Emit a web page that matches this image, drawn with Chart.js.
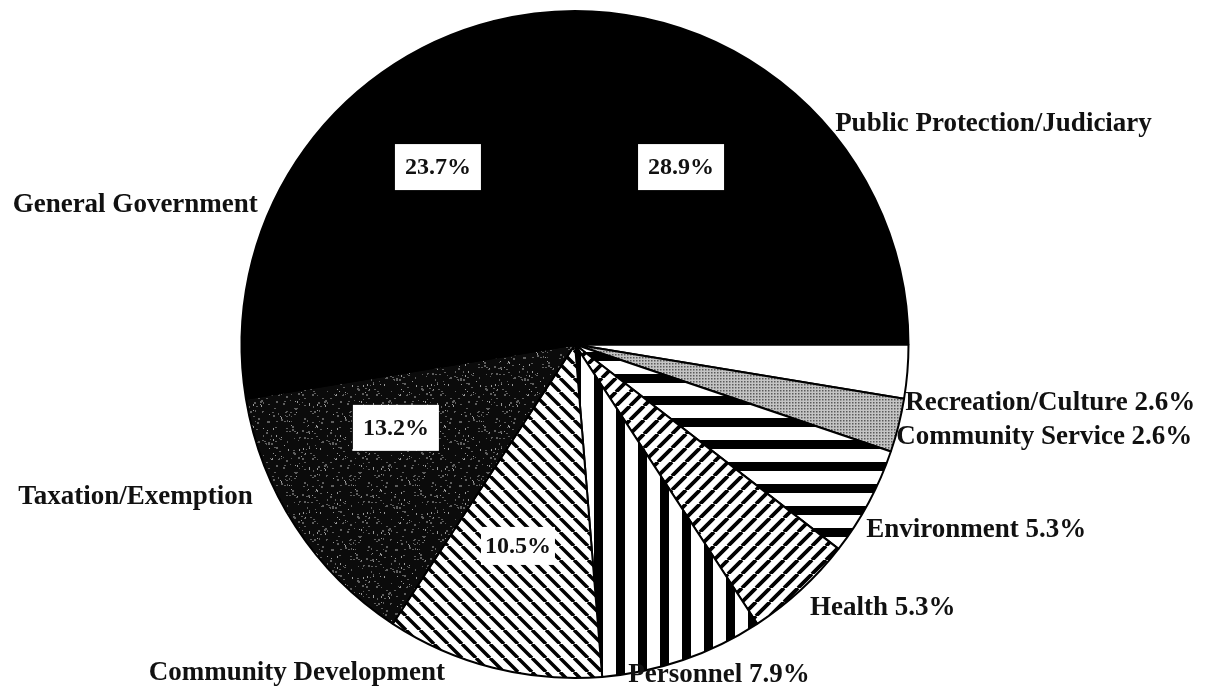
<!DOCTYPE html>
<html>
<head>
<meta charset="utf-8">
<script src="https://cdn.jsdelivr.net/npm/chart.js@4/dist/chart.umd.min.js"></script>
<style>
    html, body { margin: 0; padding: 0; background: #fff; }
    #wrap { width: 1206px; height: 687px; position: relative; }
</style>
</head>
<body>
<div id="wrap"><canvas id="pieCanvas"></canvas></div>
<script>
// slices in clockwise order, starting at 3 o'clock
const categories = ['Recreation/Culture', 'Community Service', 'Environment', 'Health', 'Personnel',
    'Community Development', 'Taxation/Exemption', 'General Government', 'Public Protection/Judiciary'];
const shares = [2.6, 2.6, 5.3, 5.3, 7.9, 10.5, 13.2, 23.7, 28.9];
// outside label text (small slices carry their share in the label)
const outsideText = ['Recreation/Culture 2.6%', 'Community Service 2.6%', 'Environment 5.3%', 'Health 5.3%',
    'Personnel 7.9%', 'Community Development', 'Taxation/Exemption', 'General Government', 'Public Protection/Judiciary'];
// boxed share labels inside the big slices
const insideText = ['', '', '', '', '', '10.5%', '13.2%', '23.7%', '28.9%'];

// label placement, as fractions of the pie radius from its centre
const outsidePos = [
    { fx: 0.990, fy: 0.175, align: 'left' },
    { fx: 0.963, fy: 0.277, align: 'left' },
    { fx: 0.873, fy: 0.556, align: 'left' },
    { fx: 0.705, fy: 0.790, align: 'left' },
    { fx: 0.160, fy: 0.991, align: 'left' },
    { fx: -0.390, fy: 0.985, align: 'right' },
    { fx: -0.966, fy: 0.457, align: 'right' },
    { fx: -0.951, fy: -0.418, align: 'right' },
    { fx: 0.780, fy: -0.661, align: 'left' }
];
const insidePos = [null, null, null, null, null,
    { fx: -0.171, fy: 0.604, border: false },
    { fx: -0.537, fy: 0.250, border: true },
    { fx: -0.411, fy: -0.532, border: true },
    { fx: 0.318, fy: -0.532, border: true }
];

function makePattern(size, draw) {
    const c = document.createElement('canvas');
    c.width = size;
    c.height = size;
    const g = c.getContext('2d');
    draw(g, size);
    return g.createPattern(c, 'repeat');
}

function hatch(dir, size, lw) {
    return makePattern(size, (g, s) => {
        g.fillStyle = '#fff';
        g.fillRect(0, 0, s, s);
        g.strokeStyle = '#000';
        g.lineWidth = lw;
        g.beginPath();
        for (let k = -s; k <= s; k += s) {
            if (dir === 'back') { g.moveTo(k, 0); g.lineTo(k + s, s); }
            else { g.moveTo(k, s); g.lineTo(k + s, 0); }
        }
        g.stroke();
    });
}

const fills = [
    '#ffffff',
    makePattern(3, (g, s) => {
        g.fillStyle = '#c4c4c4';
        g.fillRect(0, 0, s, s);
        g.fillStyle = '#5a5a5a';
        g.fillRect(0, 0, 1.5, 1.5);
    }),
    makePattern(22, (g, s) => {
        g.fillStyle = '#fff';
        g.fillRect(0, 0, s, s);
        g.fillStyle = '#000';
        g.fillRect(0, 0, s, 9);
    }),
    hatch('fwd', 14, 3.8),
    makePattern(22, (g, s) => {
        g.fillStyle = '#fff';
        g.fillRect(0, 0, s, s);
        g.fillStyle = '#000';
        g.fillRect(0, 0, 9, s);
    }),
    hatch('back', 14, 3.5),
    makePattern(64, (g, s) => {
        g.fillStyle = '#0b0b0b';
        g.fillRect(0, 0, s, s);
        // fixed speckle texture
        for (let i = 0; i < 170; i++) {
            const x = (i * 37 + (i * i) % 11) % s;
            const y = (i * 23 + (i * i * 7) % 29) % s;
            g.fillStyle = i % 4 === 0 ? '#9a9a9a' : '#5e5e5e';
            g.fillRect(x, y, 1 + (i % 2), 1 + (i % 3 === 0 ? 1 : 0));
        }
    }),
    '#000000',
    '#000000'
];

const labelPlugin = {
    id: 'sliceLabels',
    afterDatasetsDraw(chart) {
        const arc = chart.getDatasetMeta(0).data[0];
        if (!arc) return;
        const cx = arc.x, cy = arc.y, R = arc.outerRadius;
        const ctx = chart.ctx;
        ctx.save();
        ctx.textBaseline = 'middle';
        ctx.fillStyle = '#111';
        ctx.font = 'bold 27px "Liberation Serif", "DejaVu Serif", serif';
        outsideText.forEach((t, i) => {
            const p = outsidePos[i];
            ctx.textAlign = p.align;
            ctx.fillText(t, cx + p.fx * R, cy + p.fy * R);
        });
        ctx.font = 'bold 24px "Liberation Serif", "DejaVu Serif", serif';
        ctx.textAlign = 'center';
        insideText.forEach((t, i) => {
            if (!t) return;
            const p = insidePos[i];
            const x = cx + p.fx * R, y = cy + p.fy * R;
            const w = p.border ? 86 : 74, h = p.border ? 46 : 38;
            ctx.fillStyle = '#fff';
            ctx.fillRect(x - w / 2, y - h / 2, w, h);
            ctx.fillStyle = '#111';
            ctx.fillText(t, x, y + 1);
        });
        ctx.restore();
    }
};

new Chart(document.getElementById('pieCanvas'), {
    type: 'pie',
    data: {
        labels: categories,
        datasets: [{
            data: shares,
            backgroundColor: fills,
            borderColor: '#000',
            borderWidth: 2
        }]
    },
    options: {
        responsive: true,
        maintainAspectRatio: false,
        animation: false,
        events: [],
        rotation: 90,
        layout: { padding: { left: 0, right: 56, top: 10, bottom: 8 } },
        plugins: {
            legend: { display: false },
            tooltip: { enabled: false }
        }
    },
    plugins: [labelPlugin]
});
</script>
</body>
</html>
